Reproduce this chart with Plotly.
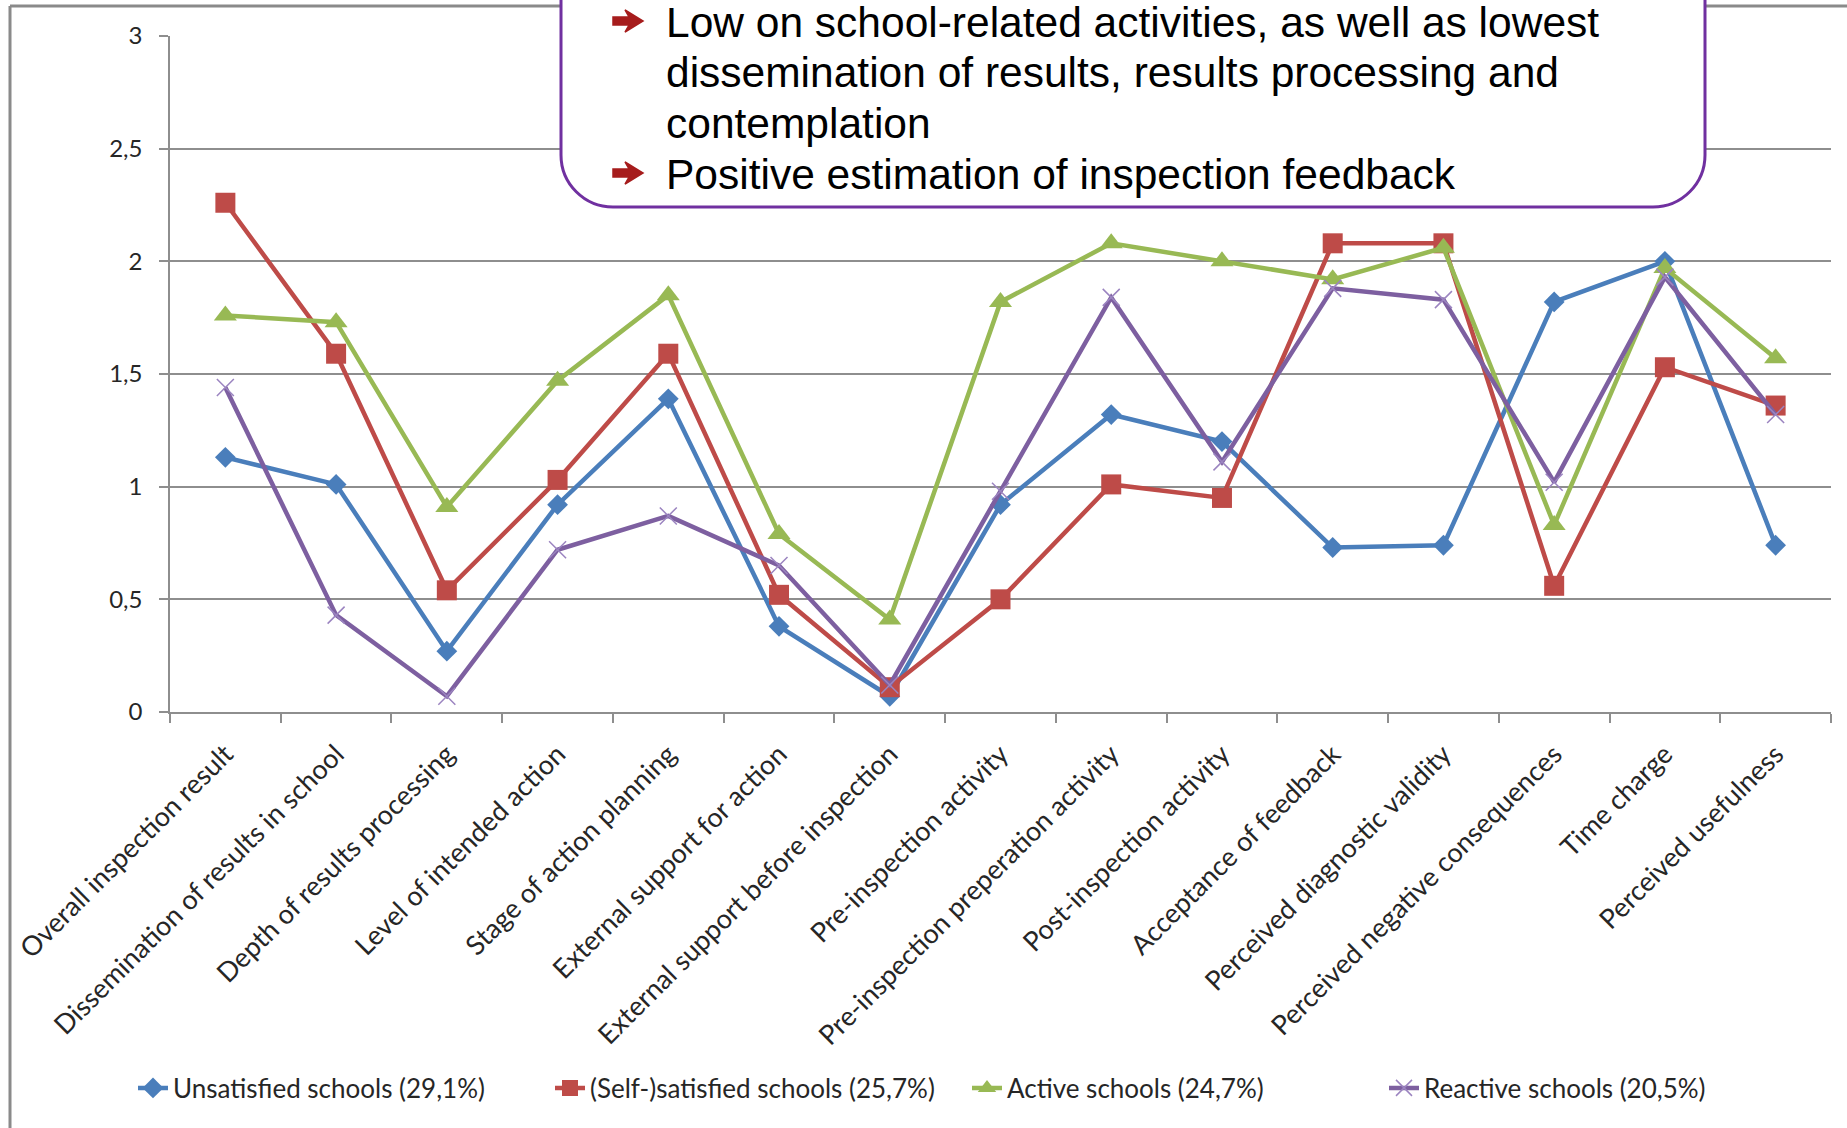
import plotly.graph_objects as go

# ---- data ----
categories = [
    "Overall inspection result",
    "Dissemination of results in school",
    "Depth of results processing",
    "Level of intended action",
    "Stage of action planning",
    "External support for action",
    "External support before inspection",
    "Pre-inspection activity",
    "Pre-inspection preperation activity",
    "Post-inspection activity",
    "Acceptance of feedback",
    "Perceived diagnostic validity",
    "Perceived negative consequences",
    "Time charge",
    "Perceived usefulness",
]

series_names = [
    "Unsatisfied schools (29,1%)",
    "(Self-)satisfied schools (25,7%)",
    "Active schools (24,7%)",
    "Reactive schools (20,5%)",
]

unsatisfied = [1.13, 1.01, 0.27, 0.92, 1.39, 0.38, 0.07, 0.92, 1.32, 1.20, 0.73, 0.74, 1.82, 2.00, 0.74]
self_satisfied = [2.26, 1.59, 0.54, 1.03, 1.59, 0.52, 0.11, 0.50, 1.01, 0.95, 2.08, 2.08, 0.56, 1.53, 1.36]
active = [1.76, 1.73, 0.91, 1.47, 1.85, 0.79, 0.41, 1.82, 2.08, 2.00, 1.92, 2.06, 0.83, 1.97, 1.57]
reactive = [1.44, 0.43, 0.07, 0.72, 0.87, 0.65, 0.12, 0.98, 1.84, 1.11, 1.88, 1.83, 1.02, 1.93, 1.32]

y_ticks = [0, 0.5, 1, 1.5, 2, 2.5, 3]

callout_lines = [
    (True, "Low on school-related activities, as well as lowest"),
    (False, "dissemination of results, results processing and"),
    (False, "contemplation"),
    (True, "Positive estimation of inspection feedback"),
]

# ---- page geometry ----
W, H = 1847, 1128
ML, MR, MT, MB = 170, 16, 36, 416
PW, PH = W - ML - MR, H - MT - MB


def px(x):
    return (x - ML) / PW


def py(y):
    return (H - MB - y) / PH


LABEL_FONT = "Lato, 'Open Sans', sans-serif"
GRID = "#8e8e8e"

styles = [
    dict(color="#4A7EBB", symbol="diamond", size=16, line=dict(width=0)),
    dict(color="#BE4B48", symbol="square", size=20, line=dict(width=0)),
    dict(color="#98B954", symbol="triangle-up", size=20, line=dict(width=0)),
    dict(color="#7D5FA0", symbol="x-thin", size=17, line=dict(width=1.5, color="#9B84C0")),
]

fig = go.Figure()
for name, vals, st in zip(series_names, [unsatisfied, self_satisfied, active, reactive], styles):
    fig.add_trace(go.Scatter(
        x=categories, y=vals, name=name, mode="lines+markers",
        line=dict(color=st["color"], width=4.5),
        marker=st,
    ))

# outer chart frame (top and left edges visible)
shapes = [
    dict(type="line", xref="paper", yref="paper", x0=px(10), x1=px(W + 10), y0=py(6), y1=py(6),
         line=dict(color="#8a8a8a", width=3), layer="above"),
    dict(type="line", xref="paper", yref="paper", x0=px(10), x1=px(10), y0=py(6), y1=py(H + 10),
         line=dict(color="#8a8a8a", width=3), layer="above"),
]

# rounded callout box hanging from the top
bx0, bx1, by_top, by_bot, r = 561, 1705, -80, 207, 52
k = 0.5523 * r
path = (
    f"M {px(bx0)},{py(by_top)} "
    f"L {px(bx0)},{py(by_bot - r)} "
    f"C {px(bx0)},{py(by_bot - r + k)} {px(bx0 + r - k)},{py(by_bot)} {px(bx0 + r)},{py(by_bot)} "
    f"L {px(bx1 - r)},{py(by_bot)} "
    f"C {px(bx1 - r + k)},{py(by_bot)} {px(bx1)},{py(by_bot - r + k)} {px(bx1)},{py(by_bot - r)} "
    f"L {px(bx1)},{py(by_top)} Z"
)
shapes.append(dict(type="path", xref="paper", yref="paper", path=path,
                   fillcolor="white", line=dict(color="#7030A0", width=3), layer="above"))


def bullet_arrow(cx, cy):
    # thick right-pointing bullet arrow centred on (cx, cy)
    pts = [(-15, -4), (1, -4), (-3, -11), (15, 0), (-3, 11), (1, 4), (-15, 4)]
    d = "M " + " L ".join(f"{px(cx + dx)},{py(cy + dy)}" for dx, dy in pts) + " Z"
    return dict(type="path", xref="paper", yref="paper", path=d,
                fillcolor="#A61C1C", line=dict(color="#A61C1C", width=1.5), layer="above")


annotations = []
line_centers = [22, 72, 123, 174]
for (bullet, text), yc in zip(callout_lines, line_centers):
    if bullet:
        shapes.append(bullet_arrow(628, yc - 1))
    annotations.append(dict(
        xref="paper", yref="paper", x=px(664), y=py(yc), xanchor="left", yanchor="middle",
        text=text, showarrow=False,
        font=dict(family="Liberation Sans, Arial, sans-serif", size=42.5, color="#000000"),
    ))

fig.update_layout(
    width=W, height=H,
    margin=dict(l=ML, r=MR, t=MT, b=MB, pad=0),
    paper_bgcolor="white", plot_bgcolor="white",
    separators=", ",
    font=dict(family=LABEL_FONT, color="#262626"),
    showlegend=True,
    legend=dict(
        orientation="h", xanchor="left", yanchor="middle",
        x=px(133), y=py(1088),
        font=dict(family=LABEL_FONT, size=26, color="#262626"),
        entrywidth=372, entrywidthmode="pixels",
        bgcolor="rgba(0,0,0,0)",
    ),
    shapes=shapes,
    annotations=annotations,
)

fig.update_xaxes(
    type="category", tickson="boundaries", ticks="outside", ticklen=9, tickcolor=GRID, tickwidth=1.5,
    showline=True, linecolor=GRID, linewidth=1.5, showgrid=False, zeroline=False,
    tickangle=-45, tickfont=dict(family=LABEL_FONT, size=27, color="#262626"),
    ticklabelstandoff=14,
    range=[-0.5, len(categories) - 0.5], fixedrange=True,
)
fig.update_yaxes(
    range=[0, 3], tickvals=y_ticks, ticks="outside", ticklen=9, tickcolor=GRID, tickwidth=1.5,
    showline=True, linecolor=GRID, linewidth=1.5, showgrid=True, gridcolor=GRID, gridwidth=1.5,
    zeroline=False, tickfont=dict(family=LABEL_FONT, size=24, color="#262626"),
    ticklabelstandoff=12, fixedrange=True,
)

fig.write_html("out.html")
